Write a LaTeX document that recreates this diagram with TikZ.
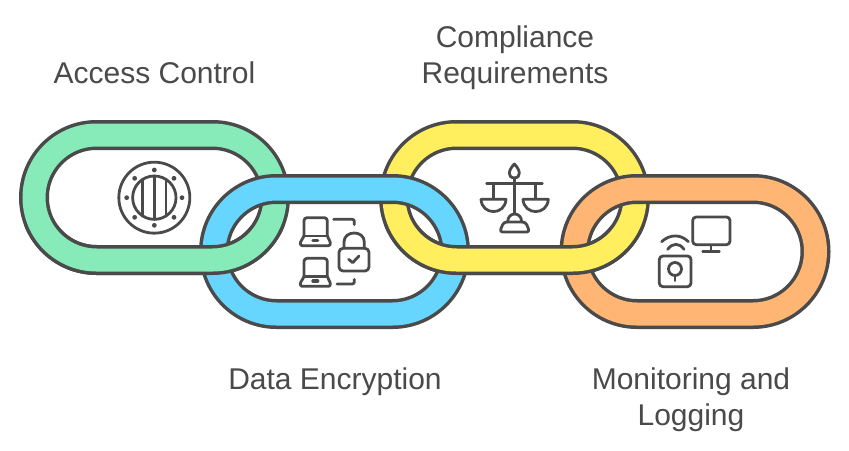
\documentclass[tikz,border=0pt]{standalone}
\usepackage{fontspec}
\setmainfont{Liberation Sans}
\definecolor{ink}{HTML}{4A4A4A}
\definecolor{cgreen}{HTML}{86EBB8}
\definecolor{cblue}{HTML}{66D6FF}
\definecolor{cyellow}{HTML}{FFEE5E}
\definecolor{corange}{HTML}{FFB573}
\tikzset{
  lbl/.style={text=ink,font=\fontsize{30}{36}\selectfont,align=center,inner sep=0pt},
  ico/.style={draw=ink,line width=2.8pt,line cap=round,line join=round}
}
\newcommand{\ring}[3]{%
  \draw[ink,line width=30pt,rounded corners=62.5pt] (#1,#2) rectangle ++(241,125);
  \draw[#3,line width=23pt,rounded corners=62.5pt] (#1,#2) rectangle ++(241,125);
}
\begin{document}
\begin{tikzpicture}[x=1pt,y=-1pt]
\useasboundingbox (0,0) rectangle (849,450);
\fill[white] (0,0) rectangle (849,450);
% rings, back layer
\ring{34}{135}{cgreen}
\ring{394}{135}{cyellow}
\ring{214}{189}{cblue}
\ring{574.5}{189}{corange}
% lower halves of green and yellow pass in front
\begin{scope}
\clip (0,225) rectangle (849,450);
\ring{34}{135}{cgreen}
\ring{394}{135}{cyellow}
\end{scope}
% labels
\node[lbl] (access) at (154.5,72.5) {Access Control};
\node[lbl] (compliance) at (515,57.5) {Compliance\\Requirements};
\node[lbl] (encryption) at (335,381.5) {Data Encryption};
\node[lbl] (monitoring) at (691,399.5) {Monitoring and\\Logging};
% porthole icon
\begin{scope}[xshift=100pt,yshift=-150pt,x=0.33333pt,y=-0.33333pt]
\draw[ico] (163,143) circle[radius=35.5pt];
\draw[ico] (163,143) circle[radius=21.7pt];
\draw[ico] (163,78)--(163,208);
\draw[ico] (128,88)--(128,198);
\draw[ico] (198,88)--(198,198);
\foreach \a/\b in {163/60,222/85,246/143,222/202,163/226,104/202,80/143,104/85}
  \fill[ink] (\a,\b) circle[radius=2.4pt];
\end{scope}
% laptops and lock icon
\begin{scope}[xshift=190pt,yshift=-170pt,x=0.33333pt,y=-0.33333pt]
\foreach \d in {0,122}{
\draw[ico,rounded corners=3pt] (342,198+\d)--(342,143+\d)--(412,143+\d)--(412,198+\d);
\draw[ico] (342,198+\d)--(412,198+\d);
\draw[ico] (342,198+\d) [rounded corners=1pt] --(331,217+\d) [rounded corners=2pt] --(331,227+\d)--(421,227+\d) [rounded corners=1pt] --(421,217+\d)--(412,198+\d);
\draw[ico,line width=3.4pt] (369,211+\d)--(383,211+\d);
}
\draw[ico,rounded corners=2pt] (431,148)--(493,148)--(493,164);
\draw[ico,rounded corners=2pt] (441,342)--(493,342)--(493,328);
\draw[ico,rounded corners=4pt] (447,235) rectangle (537,303);
\draw[ico] (462,235)--(462,216) .. controls (462,180) and (523,180) .. (523,216)--(523,235);
\draw[ico] (476,268)--(488,278)--(507,258);
\end{scope}
% scales icon
\begin{scope}[xshift=370pt,yshift=-150pt,x=0.33333pt,y=-0.33333pt]
\draw[ico] (433,84) .. controls (411,82) and (415,60) .. (433,42) .. controls (451,60) and (455,82) .. (433,84);
\draw[ico] (350,100)--(517,100);
\draw[ico] (433,84)--(433,190);
\draw[ico] (370,100)--(370,146);
\draw[ico] (497,100)--(497,146);
\draw[ico] (333,148)--(408,148) .. controls (405,197) and (336,197) .. (333,148);
\draw[ico] (459,148)--(535,148) .. controls (532,197) and (462,197) .. (459,148);
\draw[ico] (413,216) .. controls (413,184) and (455,184) .. (455,216);
\draw[ico,rounded corners=3pt] (401,216)--(467,216)--(479,246)--(389,246)--cycle;
\end{scope}
% monitor and sensor icon
\begin{scope}[xshift=550pt,yshift=-170pt,x=0.33333pt,y=-0.33333pt]
\draw[ico,rounded corners=3.5pt] (428,141) rectangle (540,224);
\draw[ico] (483,226)--(483,245);
\draw[ico] (458,245)--(508,245);
\draw[ico] (335,215) .. controls (360,192) and (392,192) .. (415,215);
\draw[ico] (353,238) .. controls (368,218) and (388,218) .. (402,238);
\draw[ico,rounded corners=3.5pt] (328,258) rectangle (423,350);
\draw[ico] (375,297) circle[radius=6.5pt];
\draw[ico] (375,318)--(375,332);
\end{scope}
\end{tikzpicture}
\end{document}
